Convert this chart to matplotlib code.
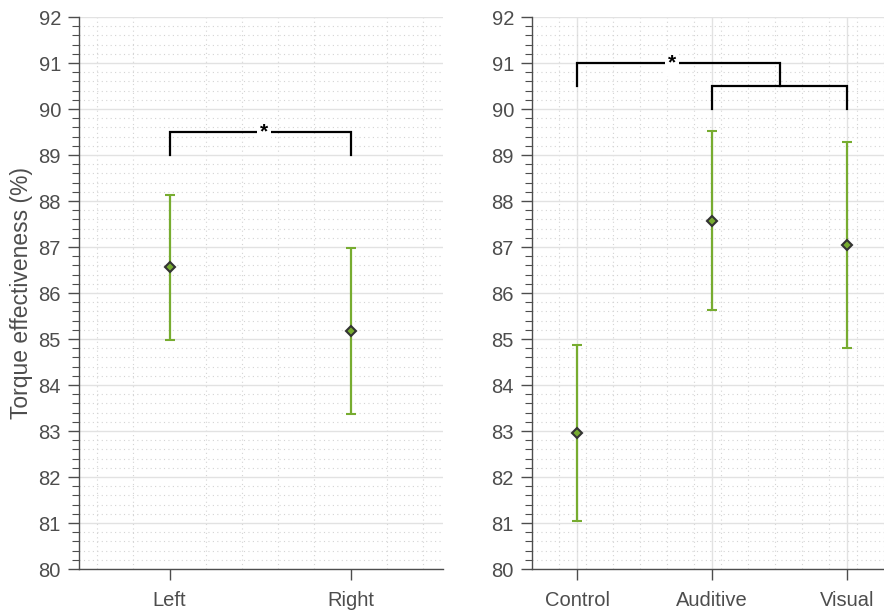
import numpy as np
import matplotlib.pyplot as plt
from matplotlib.ticker import MultipleLocator, FixedLocator

# side comparison
side_labels = ['Left', 'Right']
side_mean = [86.56, 85.18]
side_low = [84.97, 83.38]
side_high = [88.14, 86.98]

# feedback condition comparison
cond_labels = ['Control', 'Auditive', 'Visual']
cond_mean = [82.95, 87.57, 87.04]
cond_low = [81.05, 85.63, 84.80]
cond_high = [84.86, 89.52, 89.28]

green = '#77AC30'
txt = '#4d4d4d'

plt.rcParams['font.family'] = ['Liberation Sans', 'DejaVu Sans']

fig = plt.figure(figsize=(8.84, 6.11), dpi=100)
ax1 = fig.add_axes([0.0894, 0.0687, 0.4118, 0.9034])
ax2 = fig.add_axes([0.6018, 0.0687, 0.3982, 0.9034])


def style(ax, labels, xlim, xminor, major_xgrid):
    x = np.arange(len(labels))
    ax.set_xlim(*xlim)
    ax.set_ylim(80, 92)
    ax.set_xticks(x)
    ax.set_xticklabels(labels)
    ax.xaxis.set_minor_locator(FixedLocator(xminor))
    ax.set_yticks(np.arange(80, 93, 1))
    ax.yaxis.set_minor_locator(MultipleLocator(0.2))
    ax.grid(True, which='minor', color='#d4d4d4', linestyle=(0, (1, 3)), lw=0.8)
    ax.grid(True, which='major', axis='y', color='#e2e2e2', linestyle='-', lw=1.0)
    if major_xgrid:
        ax.grid(True, which='major', axis='x', color='#e2e2e2', linestyle='-', lw=1.0)
    ax.set_axisbelow(True)
    for s in ['top', 'right']:
        ax.spines[s].set_visible(False)
    for s in ['left', 'bottom']:
        ax.spines[s].set_color(txt)
        ax.spines[s].set_linewidth(1.0)
    ax.tick_params(which='major', direction='out', length=8, width=1.0,
                   color=txt, labelcolor=txt, labelsize=14.5, pad=5)
    ax.tick_params(axis='y', which='minor', direction='out', length=5, width=0.8, color=txt)
    ax.tick_params(axis='x', which='minor', length=0)
    ax.tick_params(axis='x', which='major', pad=8)


def errs(ax, mean, low, high):
    x = np.arange(len(mean))
    m = np.array(mean)
    yerr = [m - np.array(low), np.array(high) - m]
    ax.errorbar(x, m, yerr=yerr, fmt='D', color=green, ecolor=green, elinewidth=1.6,
                capsize=3.5, capthick=1.6, markersize=5.5, markerfacecolor=green,
                markeredgecolor='#333333', markeredgewidth=1.5, zorder=3)


def bracket(ax, x0, x1, y0l, y0r, ytop, star_x=None):
    ax.plot([x0, x0, x1, x1], [y0l, ytop, ytop, y0r], color='black', lw=1.6,
            solid_joinstyle='miter', zorder=4)
    if star_x is not None:
        ax.text(star_x, ytop, '*', ha='center', va='center', fontsize=15,
                fontweight='bold', zorder=5,
                bbox=dict(boxstyle='square,pad=0.15', fc='white', ec='none'))


style(ax1, side_labels, (-0.5, 1.51), np.arange(-0.4, 1.51, 0.2), False)
errs(ax1, side_mean, side_low, side_high)
bracket(ax1, 0, 1, 89, 89, 89.5, star_x=0.52)
ax1.set_ylabel('Torque effectiveness (%)', fontsize=16.5, color=txt, labelpad=4)

style(ax2, cond_labels, (-1 / 3, 2.27), np.arange(-1 / 3 + 0.2, 2.27, 0.2), True)
errs(ax2, cond_mean, cond_low, cond_high)
bracket(ax2, 1, 2, 90, 90, 90.5)
bracket(ax2, 0, 1.5, 90.5, 90.5, 91, star_x=0.7)

fig.savefig('out.png', dpi=100)
